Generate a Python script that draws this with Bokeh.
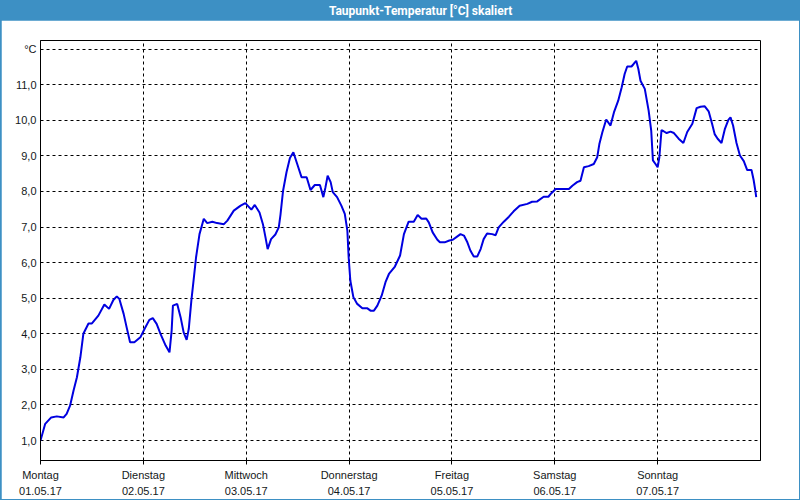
from bokeh.plotting import figure
from bokeh.layouts import column
from bokeh.models import FixedTicker
from bokeh.core.properties import value
from bokeh.embed import file_html
from bokeh.resources import INLINE

title_text = "Taupunkt-Temperatur [°C] skaliert"
day_names = ["Montag", "Dienstag", "Mittwoch", "Donnerstag", "Freitag", "Samstag", "Sonntag"]
day_dates = ["01.05.17", "02.05.17", "03.05.17", "04.05.17", "05.05.17", "06.05.17", "07.05.17"]
day_ticks = [0, 24, 48, 72, 96, 120, 144]          # hours since 01.05.17 00:00
y_ticks = [1, 2, 3, 4, 5, 6, 7, 8, 9, 10, 11, 12]
y_unit_label = "°C"

hours = [
    0.0, 1.1, 2.5, 3.8, 5.4, 6.1, 6.9, 7.7, 8.5, 9.3,
    10.0, 11.2, 12.0, 13.5, 14.9, 16.0, 17.0, 17.8, 18.4, 19.4,
    20.1, 20.9, 21.9, 23.3, 24.3, 25.4, 26.2, 27.1, 28.0, 29.2,
    30.1, 30.6, 30.9, 31.9, 32.7, 33.4, 34.1, 34.6, 35.2, 35.8,
    36.3, 37.1, 38.1, 38.9, 40.1, 41.2, 42.8, 43.6, 45.1, 46.7,
    47.8, 49.2, 50.0, 51.1, 51.9, 52.5, 53.0, 53.8, 54.8, 55.6,
    56.0, 56.6, 57.4, 58.2, 59.0, 59.9, 60.9, 62.1, 63.0, 64.0,
    65.2, 66.0, 66.5, 67.0, 67.7, 68.2, 69.2, 70.2, 71.0, 71.6,
    71.9, 72.3, 73.0, 73.9, 75.1, 76.2, 77.0, 77.8, 78.6, 79.6,
    80.5, 81.3, 82.7, 83.9, 84.8, 85.9, 87.1, 88.0, 88.9, 90.0,
    90.6, 91.5, 92.6, 93.2, 94.3, 95.4, 96.2, 97.2, 98.0, 98.8,
    99.6, 100.3, 101.1, 101.9, 102.7, 103.4, 104.2, 105.4, 106.2, 106.9,
    108.1, 109.3, 110.4, 111.8, 113.6, 114.7, 115.9, 117.4, 118.5, 119.2,
    120.2, 121.7, 123.3, 124.1, 125.2, 126.0, 126.8, 127.9, 129.1, 129.9,
    130.4, 131.1, 132.0, 133.0, 133.8, 134.8, 135.6, 136.3, 136.9, 137.9,
    138.4, 139.0, 139.5, 140.0, 141.0, 141.9, 142.5, 142.9, 143.5, 144.0,
    144.4, 144.9, 145.4, 146.1, 147.0, 147.8, 148.9, 150.0, 150.9, 152.1,
    153.1, 154.0, 155.0, 155.9, 156.7, 157.3, 158.0, 158.9, 159.7, 160.5,
    161.0, 161.6, 162.4, 163.2, 164.1, 164.9, 165.9, 166.4, 166.8, 167.0,
]
dew_point = [
    1.00, 1.47, 1.65, 1.68, 1.65, 1.75, 1.98, 2.40, 2.78, 3.34,
    4.00, 4.29, 4.29, 4.51, 4.82, 4.70, 4.95, 5.05, 4.98, 4.56,
    4.18, 3.76, 3.76, 3.90, 4.14, 4.39, 4.44, 4.28, 4.00, 3.67,
    3.48, 4.09, 4.79, 4.84, 4.46, 4.04, 3.83, 4.14, 4.93, 5.59,
    6.15, 6.80, 7.23, 7.11, 7.15, 7.11, 7.08, 7.18, 7.46, 7.60,
    7.67, 7.49, 7.62, 7.41, 7.08, 6.71, 6.38, 6.66, 6.79, 6.99,
    7.35, 8.02, 8.54, 8.94, 9.10, 8.77, 8.40, 8.40, 8.04, 8.18,
    8.18, 7.84, 8.12, 8.44, 8.26, 7.98, 7.84, 7.60, 7.37, 6.90,
    6.15, 5.49, 5.03, 4.84, 4.72, 4.72, 4.65, 4.65, 4.79, 5.07,
    5.45, 5.68, 5.89, 6.20, 6.80, 7.15, 7.15, 7.34, 7.23, 7.24,
    7.13, 6.85, 6.64, 6.57, 6.57, 6.62, 6.64, 6.73, 6.80, 6.76,
    6.57, 6.34, 6.17, 6.17, 6.38, 6.66, 6.82, 6.80, 6.77, 6.99,
    7.15, 7.29, 7.44, 7.60, 7.65, 7.71, 7.72, 7.85, 7.85, 7.95,
    8.07, 8.07, 8.07, 8.16, 8.26, 8.30, 8.68, 8.71, 8.77, 8.96,
    9.33, 9.66, 10.02, 9.85, 10.22, 10.55, 10.92, 11.30, 11.51, 11.51,
    11.58, 11.67, 11.44, 11.11, 10.88, 10.27, 9.71, 8.87, 8.77, 8.68,
    8.96, 9.72, 9.69, 9.64, 9.68, 9.64, 9.48, 9.36, 9.67, 9.90,
    10.34, 10.38, 10.39, 10.25, 9.90, 9.61, 9.48, 9.36, 9.76, 10.01,
    10.08, 9.85, 9.36, 9.01, 8.85, 8.60, 8.60, 8.32, 8.02, 7.84,
]
assert len(hours) == len(dew_point)

BAR_BLUE = "#3d90c4"
LINE_BLUE = "#0000e0"
TEXT_COL = "#141820"

# ---- title bar (transparent figure over a blue layout background) ----
t = figure(width=798, height=20, x_range=(0, 1), y_range=(0, 1),
           output_backend="svg", toolbar_location=None,
           x_axis_location=None, y_axis_location=None,
           min_border=0, background_fill_color=None,
           border_fill_color=None, outline_line_color=None)
t.grid.visible = False
t.text(x=[0.528], y=[0.5], text=[title_text], text_align="center",
       text_baseline="middle", text_color="white",
       text_font=value("Roboto"), text_font_size="12px", text_font_style="bold")

# ---- main chart ----
p = figure(frame_width=720, frame_height=420, x_range=(0, 168), y_range=(0.44, 12.24),
           output_backend="svg", toolbar_location=None,
           min_border_left=39, min_border_right=39, min_border_top=20, min_border_bottom=39,
           background_fill_color="white", border_fill_color="white",
           outline_line_color="black", outline_line_alpha=1.0)

p.line(hours, dew_point, line_color=LINE_BLUE, line_width=2)

p.xaxis.ticker = FixedTicker(ticks=day_ticks)
p.xaxis.major_label_overrides = {tk: f"{n}\n{d}" for tk, n, d in zip(day_ticks, day_names, day_dates)}
p.yaxis.ticker = FixedTicker(ticks=y_ticks)
ylab = {v: f"{v},0" for v in y_ticks}
ylab[12] = y_unit_label
p.yaxis.major_label_overrides = ylab

for ax in (p.xaxis, p.yaxis):
    ax.axis_line_color = "black"
    ax.major_tick_line_color = "black"
    ax.minor_tick_line_color = None
    ax.major_tick_in = 0
    ax.major_label_text_font = "Liberation Sans"
    ax.major_label_text_font_size = "11px"
    ax.major_label_text_color = TEXT_COL
p.xaxis.major_tick_out = 4
p.xaxis.major_label_standoff = 4
p.xaxis.major_label_text_line_height = 1.35
p.yaxis.major_tick_out = 0
p.yaxis.major_label_standoff = 4

for g in (p.xgrid, p.ygrid):
    g.grid_line_color = "black"
    g.grid_line_alpha = 1.0
    g.grid_line_dash = "3 3"
    g.grid_line_width = 1

layout = column(t, p, spacing=0,
                styles={"background-color": BAR_BLUE, "padding": "0px 1px 1px 1px"})
open("out.html", "w").write(file_html(layout, INLINE))
